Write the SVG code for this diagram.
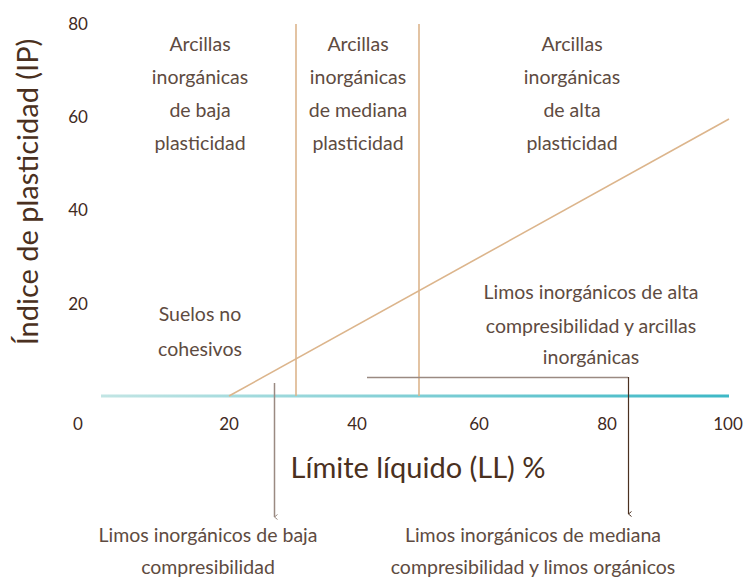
<svg xmlns="http://www.w3.org/2000/svg" width="748" height="580" viewBox="0 0 748 580">
<defs>
<linearGradient id="axisGrad" gradientUnits="userSpaceOnUse" x1="101" y1="0" x2="729" y2="0">
<stop offset="0" stop-color="#c2e5e4"/>
<stop offset="1" stop-color="#3db8c6"/>
</linearGradient>
<marker id="arrGray" viewBox="0 0 8 6" refX="4" refY="5.5" markerWidth="8" markerHeight="6" markerUnits="userSpaceOnUse" orient="auto">
<path d="M1.5,2.5 L4,5.5 L6.5,2.5" fill="none" stroke="#9a8a82" stroke-width="1"/>
</marker>
<marker id="arrDark" viewBox="0 0 8 6" refX="4" refY="5.5" markerWidth="8" markerHeight="6" markerUnits="userSpaceOnUse" orient="auto">
<path d="M1.5,2.5 L4,5.5 L6.5,2.5" fill="none" stroke="#4a3020" stroke-width="1"/>
</marker>
<style>
text{font-family:"Lato","Noto Sans","Liberation Sans",sans-serif;}
.tick{font-size:17px;fill:#3f2a1e;text-anchor:middle;}
.lbl{font-size:19.5px;fill:#5e4b41;text-anchor:middle;}
.title{font-size:29px;fill:#4a3020;text-anchor:middle;}
.tan{stroke:#dcb58c;stroke-width:1.6;fill:none;}
.gray{stroke:#9a8a82;stroke-width:1.5;fill:none;}
.dark{stroke:#4a3020;stroke-width:1.2;fill:none;}
</style>
</defs>
<g id="axes">
<line x1="101" y1="396" x2="729" y2="396" stroke="url(#axisGrad)" stroke-width="3"/>
<text class="tick" x="78" y="430">0</text>
<text class="tick" x="229" y="430">20</text>
<text class="tick" x="357" y="430">40</text>
<text class="tick" x="479" y="430">60</text>
<text class="tick" x="607" y="430">80</text>
<text class="tick" x="728" y="430">100</text>
<text class="tick" x="78" y="30">80</text>
<text class="tick" x="78" y="123">60</text>
<text class="tick" x="78" y="216">40</text>
<text class="tick" x="78" y="310">20</text>
<text class="title" x="418" y="478">Límite líquido (LL) %</text>
<text class="title" transform="translate(38,192) rotate(-90)" x="0" y="0">Índice de plasticidad (IP)</text>
</g>
<g id="chart-lines">
<line class="tan" x1="296" y1="24" x2="296" y2="396"/>
<line class="tan" x1="419" y1="24" x2="419" y2="396"/>
<line class="tan" x1="229" y1="396" x2="729" y2="119"/>
</g>
<g id="connectors">
<line class="gray" x1="274.5" y1="383" x2="274.5" y2="517" marker-end="url(#arrGray)"/>
<line class="gray" x1="367" y1="377.5" x2="628" y2="377.5"/>
<line class="dark" x1="628.5" y1="377" x2="628.5" y2="514" marker-end="url(#arrDark)"/>
</g>
<g id="clay-low">
<text class="lbl" x="200" y="51">Arcillas</text>
<text class="lbl" x="200" y="84">inorgánicas</text>
<text class="lbl" x="200" y="117">de baja</text>
<text class="lbl" x="200" y="150">plasticidad</text>
</g>
<g id="clay-medium">
<text class="lbl" x="358" y="51">Arcillas</text>
<text class="lbl" x="358" y="84">inorgánicas</text>
<text class="lbl" x="358" y="117">de mediana</text>
<text class="lbl" x="358" y="150">plasticidad</text>
</g>
<g id="clay-high">
<text class="lbl" x="572" y="51">Arcillas</text>
<text class="lbl" x="572" y="84">inorgánicas</text>
<text class="lbl" x="572" y="117">de alta</text>
<text class="lbl" x="572" y="150">plasticidad</text>
</g>
<g id="non-cohesive">
<text class="lbl" x="200" y="321">Suelos no</text>
<text class="lbl" x="200" y="356">cohesivos</text>
</g>
<g id="silt-high">
<text class="lbl" x="591" y="299">Limos inorgánicos de alta</text>
<text class="lbl" x="591" y="333">compresibilidad y arcillas</text>
<text class="lbl" x="591" y="364">inorgánicas</text>
</g>
<g id="silt-low">
<text class="lbl" x="208" y="542">Limos inorgánicos de baja</text>
<text class="lbl" x="208" y="574">compresibilidad</text>
</g>
<g id="silt-medium">
<text class="lbl" x="533" y="542">Limos inorgánicos de mediana</text>
<text class="lbl" x="533" y="574">compresibilidad y limos orgánicos</text>
</g>
</svg>
